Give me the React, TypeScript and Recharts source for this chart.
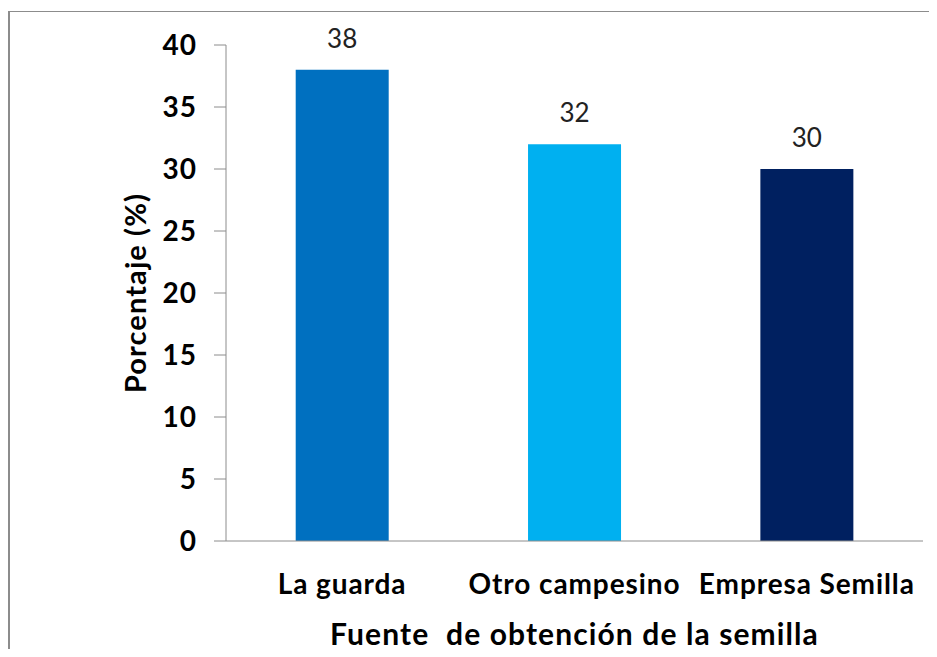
import React from "react";
import { Bar, BarChart, Cell, LabelList, Label, XAxis, YAxis } from "recharts";

const categories = ["La guarda", "Otro campesino", "Empresa Semilla"];
const percentages = [38, 32, 30];
const barColors = ["#0070C0", "#00B0F0", "#002060"];
const yTicks = [0, 5, 10, 15, 20, 25, 30, 35, 40];
const bandEdges = [0, 1, 2, 3];

const data = categories.map((name, i) => ({ name, value: percentages[i] }));

const FONT = "Lato, 'Open Sans', sans-serif";
const AXIS_GRAY = "#8c8c8c";

function XTitle(props: any) {
  const vb = props.viewBox || {};
  return (
    <text
      x={vb.x + vb.width / 2}
      y={vb.y + 104}
      textAnchor="middle"
      fontFamily={FONT}
      fontWeight={700}
      fontSize={30}
      fill="#000"
      style={{ whiteSpace: "pre", letterSpacing: 1.1 }}
    >
      {"Fuente  de obtención de la semilla"}
    </text>
  );
}

function YTitle(props: any) {
  const vb = props.viewBox || {};
  const cx = vb.x + 146;
  const cy = vb.y + vb.height / 2;
  return (
    <text
      x={cx}
      y={cy}
      textAnchor="middle"
      transform={`rotate(-90 ${cx} ${cy})`}
      fontFamily={FONT}
      fontWeight={700}
      fontSize={29}
      fill="#000"
      style={{ letterSpacing: 1.1 }}
    >
      Porcentaje (%)
    </text>
  );
}

export default function App() {
  return (
    <div style={{ position: "relative", margin: -8, width: 937, height: 657, background: "#fff", overflow: "hidden" }}>
      <div
        style={{
          position: "absolute",
          left: 8,
          top: 11,
          width: 940,
          height: 660,
          borderLeft: `2px solid ${AXIS_GRAY}`,
          borderTop: `1px solid ${AXIS_GRAY}`,
        }}
      />
      <BarChart
        width={937}
        height={657}
        data={data}
        margin={{ top: 45, right: 14, bottom: 0, left: 0 }}
        barCategoryGap="30%"
        style={{ position: "absolute", left: 0, top: 0, fontFamily: FONT }}
      >
        <XAxis
          xAxisId="edges"
          type="number"
          domain={[0, 3]}
          ticks={bandEdges}
          allowDataOverflow
          height={0}
          axisLine={false}
          tickLine={{ stroke: AXIS_GRAY }}
          tickSize={10}
          tickFormatter={() => ""}
        />
        <XAxis
          dataKey="name"
          height={116}
          axisLine={{ stroke: AXIS_GRAY }}
          tickLine={false}
          tickSize={0}
          tickMargin={33}
          tick={{ fill: "#000", fontSize: 28, fontWeight: 700, fontFamily: FONT, letterSpacing: 0.9 }}
          interval={0}
        >
          <Label content={<XTitle />} />
        </XAxis>
        <YAxis
          domain={[0, 40]}
          ticks={yTicks}
          width={226}
          axisLine={{ stroke: AXIS_GRAY }}
          tickLine={{ stroke: AXIS_GRAY }}
          tickSize={12}
          tickMargin={17}
          tick={{ fill: "#000", fontSize: 28, fontWeight: 700, fontFamily: FONT, letterSpacing: 1 }}
        >
          <Label content={<YTitle />} />
        </YAxis>
        <Bar dataKey="value" isAnimationActive={false}>
          {data.map((d, i) => (
            <Cell key={d.name} fill={barColors[i]} />
          ))}
          <LabelList
            dataKey="value"
            position="top"
            offset={22}
            fill="#222"
            fontSize={26}
            fontFamily={FONT}
          />
        </Bar>
      </BarChart>
    </div>
  );
}
